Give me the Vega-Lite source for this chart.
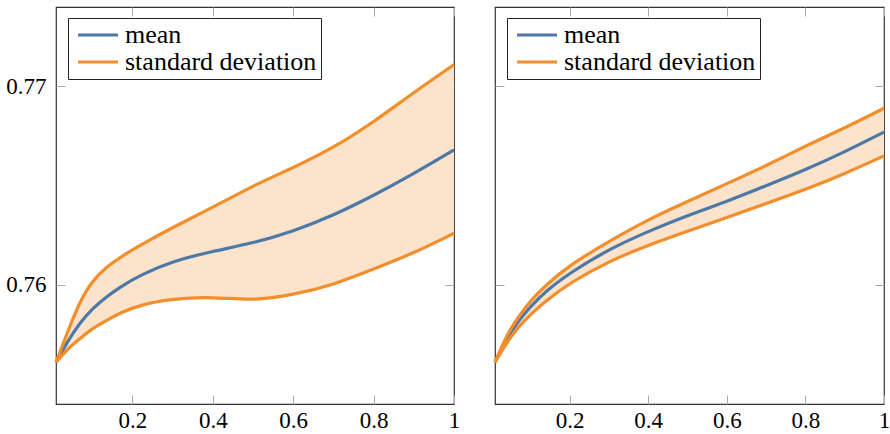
{
  "$schema": "https://vega.github.io/schema/vega-lite/v6.json",
  "padding": {"left": 5, "top": 5, "right": 0, "bottom": 0},
  "background": "white",
  "datasets": {
    "left": [
      {"x": 0.01, "mean": 0.7561, "upper": 0.7561, "lower": 0.7561},
      {"x": 0.04, "mean": 0.7572, "upper": 0.7577, "lower": 0.7568},
      {"x": 0.07, "mean": 0.7581, "upper": 0.7592, "lower": 0.7573},
      {"x": 0.1, "mean": 0.7588, "upper": 0.7602, "lower": 0.7578},
      {"x": 0.135, "mean": 0.7594, "upper": 0.7609, "lower": 0.7582},
      {"x": 0.17, "mean": 0.7599, "upper": 0.7614, "lower": 0.7586},
      {"x": 0.22, "mean": 0.7605, "upper": 0.762, "lower": 0.759},
      {"x": 0.3, "mean": 0.7612, "upper": 0.7629, "lower": 0.7593},
      {"x": 0.4, "mean": 0.7617, "upper": 0.7639, "lower": 0.7594},
      {"x": 0.5, "mean": 0.7621, "upper": 0.765, "lower": 0.7592},
      {"x": 0.6, "mean": 0.7627, "upper": 0.7659, "lower": 0.7595},
      {"x": 0.7, "mean": 0.7635, "upper": 0.7669, "lower": 0.76},
      {"x": 0.8, "mean": 0.7645, "upper": 0.7682, "lower": 0.7608},
      {"x": 0.9, "mean": 0.7656, "upper": 0.7697, "lower": 0.7616},
      {"x": 1.0, "mean": 0.7668, "upper": 0.7711, "lower": 0.7626}
    ],
    "right": [
      {"x": 0.01, "mean": 0.7561, "upper": 0.7561, "lower": 0.7561},
      {"x": 0.04, "mean": 0.7573, "upper": 0.7575, "lower": 0.7571},
      {"x": 0.07, "mean": 0.7582, "upper": 0.7584, "lower": 0.7579},
      {"x": 0.1, "mean": 0.7589, "upper": 0.7592, "lower": 0.7585},
      {"x": 0.14, "mean": 0.7597, "upper": 0.76, "lower": 0.7592},
      {"x": 0.2, "mean": 0.7606, "upper": 0.761, "lower": 0.7601},
      {"x": 0.3, "mean": 0.7618, "upper": 0.7622, "lower": 0.7612},
      {"x": 0.4, "mean": 0.7627, "upper": 0.7633, "lower": 0.762},
      {"x": 0.5, "mean": 0.7635, "upper": 0.7642, "lower": 0.7627},
      {"x": 0.6, "mean": 0.7642, "upper": 0.7651, "lower": 0.7634},
      {"x": 0.7, "mean": 0.765, "upper": 0.766, "lower": 0.7641},
      {"x": 0.8, "mean": 0.7658, "upper": 0.767, "lower": 0.7648},
      {"x": 0.9, "mean": 0.7667, "upper": 0.7679, "lower": 0.7656},
      {"x": 1.0, "mean": 0.7677, "upper": 0.7689, "lower": 0.7665}
    ]
  },
  "hconcat": [
    {
      "width": 398,
      "height": 397,
      "data": {"name": "left"},
      "layer": [
        {
          "mark": {"type": "area", "interpolate": "basis", "color": "#fbe3cc"},
          "encoding": {
            "x": {"field": "x", "type": "quantitative", "scale": {"domain": [0.01, 1], "nice": false, "zero": false},
                  "axis": {"orient": "bottom", "values": [0.2, 0.4, 0.6, 0.8, 1], "format": "~g", "title": null, "labelFlush": false, "labelPadding": 14}},
            "y": {"field": "lower", "type": "quantitative", "scale": {"domain": [0.754, 0.774], "nice": false, "zero": false},
                  "axis": {"orient": "left", "values": [0.76, 0.77], "format": "~g", "title": null}},
            "y2": {"field": "upper"}
          }
        },
        {
          "mark": {"type": "line", "interpolate": "basis", "strokeWidth": 3.2},
          "encoding": {
            "x": {"field": "x", "type": "quantitative", "axis": {"orient": "top", "values": [0.2, 0.4, 0.6, 0.8, 1], "labels": false, "title": null, "minExtent": 0}},
            "y": {"field": "mean", "type": "quantitative", "axis": {"orient": "right", "values": [0.76, 0.77], "labels": false, "title": null, "minExtent": 0}},
            "color": {"datum": "mean", "type": "nominal", "scale": {"domain": ["mean", "standard deviation"], "range": ["#4e79a7", "#f28e2b"]}, "legend": {"title": null}}
          }
        },
        {
          "mark": {"type": "line", "interpolate": "basis", "strokeWidth": 3.2},
          "encoding": {
            "x": {"field": "x", "type": "quantitative", "axis": null},
            "y": {"field": "upper", "type": "quantitative", "axis": null},
            "color": {"datum": "standard deviation", "type": "nominal", "legend": {"title": null}}
          }
        },
        {
          "mark": {"type": "line", "interpolate": "basis", "strokeWidth": 3.2},
          "encoding": {
            "x": {"field": "x", "type": "quantitative", "axis": null},
            "y": {"field": "lower", "type": "quantitative", "axis": null},
            "color": {"datum": "standard deviation", "type": "nominal", "legend": {"title": null}}
          }
        }
      ],
      "resolve": {"axis": {"x": "independent", "y": "independent"}}
    },
    {
      "width": 389,
      "height": 397,
      "data": {"name": "right"},
      "layer": [
        {
          "mark": {"type": "area", "interpolate": "basis", "color": "#fbe3cc"},
          "encoding": {
            "x": {"field": "x", "type": "quantitative", "scale": {"domain": [0.01, 1], "nice": false, "zero": false},
                  "axis": {"orient": "bottom", "values": [0.2, 0.4, 0.6, 0.8, 1], "format": "~g", "title": null, "labelFlush": false, "labelPadding": 14}},
            "y": {"field": "lower", "type": "quantitative", "scale": {"domain": [0.754, 0.774], "nice": false, "zero": false},
                  "axis": {"orient": "left", "values": [0.76, 0.77], "labels": false, "title": null, "minExtent": 0}},
            "y2": {"field": "upper"}
          }
        },
        {
          "mark": {"type": "line", "interpolate": "basis", "strokeWidth": 3.2},
          "encoding": {
            "x": {"field": "x", "type": "quantitative", "axis": {"orient": "top", "values": [0.2, 0.4, 0.6, 0.8, 1], "labels": false, "title": null, "minExtent": 0}},
            "y": {"field": "mean", "type": "quantitative", "axis": {"orient": "right", "values": [0.76, 0.77], "labels": false, "title": null, "minExtent": 0}},
            "color": {"datum": "mean", "type": "nominal", "scale": {"domain": ["mean", "standard deviation"], "range": ["#4e79a7", "#f28e2b"]}, "legend": {"title": null}}
          }
        },
        {
          "mark": {"type": "line", "interpolate": "basis", "strokeWidth": 3.2},
          "encoding": {
            "x": {"field": "x", "type": "quantitative", "axis": null},
            "y": {"field": "upper", "type": "quantitative", "axis": null},
            "color": {"datum": "standard deviation", "type": "nominal", "legend": {"title": null}}
          }
        },
        {
          "mark": {"type": "line", "interpolate": "basis", "strokeWidth": 3.2},
          "encoding": {
            "x": {"field": "x", "type": "quantitative", "axis": null},
            "y": {"field": "lower", "type": "quantitative", "axis": null},
            "color": {"datum": "standard deviation", "type": "nominal", "legend": {"title": null}}
          }
        }
      ],
      "resolve": {"axis": {"x": "independent", "y": "independent"}}
    }
  ],
  "spacing": 27,
  "resolve": {"scale": {"color": "independent"}, "legend": {"color": "independent"}},
  "config": {
    "view": {"stroke": "#333", "strokeWidth": 1.2},
    "axis": {
      "domain": false,
      "grid": false,
      "ticks": true,
      "tickColor": "#aaa",
      "tickSize": -9,
      "tickWidth": 1,
      "labelFont": "Liberation Serif",
      "labelFontSize": 23,
      "labelColor": "#000",
      "labelPadding": 19
    },
    "legend": {
      "orient": "none",
      "legendX": 12,
      "legendY": 11,
      "title": null,
      "titlePadding": 0,
      "symbolType": "M-2,0H2",
      "symbolSize": 400,
      "symbolStrokeWidth": 3.2,
      "symbolOffset": 13,
      "labelFont": "Liberation Serif",
      "labelFontSize": 26,
      "labelColor": "#000",
      "labelOffset": 14,
      "labelLimit": 0,
      "strokeColor": "#222",
      "fillColor": "white",
      "padding": 4,
      "rowPadding": 1
    }
  }
}
